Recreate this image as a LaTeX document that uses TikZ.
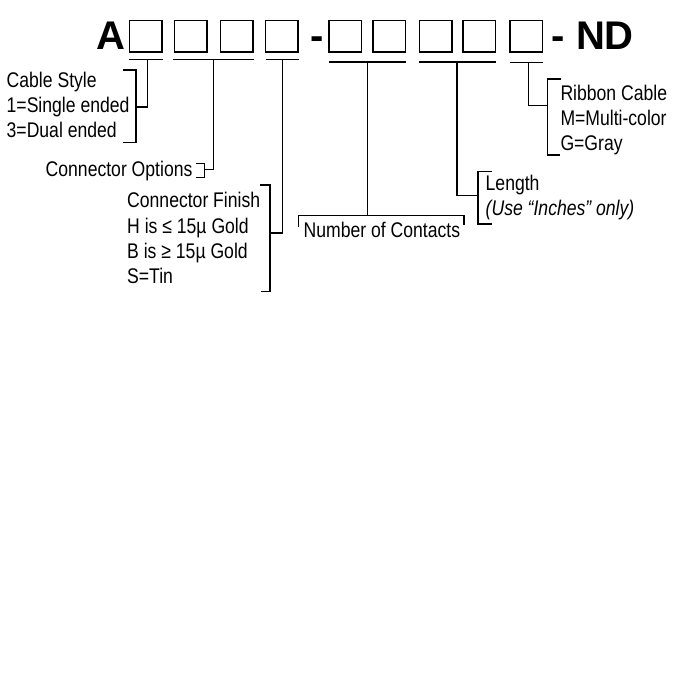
\documentclass[tikz,border=0pt]{standalone}
\usepackage{fontspec}
\setmainfont{Liberation Sans}
\newfontfamily\narrowfont{Liberation Sans}[FakeStretch=0.83]
\begin{document}
\begin{tikzpicture}[x=1pt,y=-1pt,
  ln/.style={line width=1.6pt,line cap=rect},
  codebox/.style={draw,line width=1.5pt,minimum width=32.5pt,minimum height=31.5pt,inner sep=0pt},
  big/.style={font=\fontsize{40}{42}\selectfont\bfseries,inner sep=0pt,anchor=base west},
  lbl/.style={font=\narrowfont\fontsize{21.2}{25}\selectfont,inner sep=0pt,anchor=base west}]
\fill[white] (0,0) rectangle (700,700);
\useasboundingbox (0,0) rectangle (700,700);
% header
\node[big] (A) at (96.5,49.3) {A};
\foreach \n/\cx in {b1/145.75,b2/190.75,b3/236.75,b4/281.75,b5/345.25,b6/389.25,b7/435.5,b8/479.25,b9/526.25}
  \node[codebox] (\n) at (\cx,36.25) {};
\node[big] (dash) at (310,49.3) {-};
\node[big] (nd) at (551.5,49.3) {- ND};
% bars
\coordinate (s1a) at (130,59.5); \coordinate (s1b) at (162.5,59.5);
\coordinate (s2a) at (174,59.5); \coordinate (s2b) at (253,59.5);
\coordinate (s3a) at (267,59.5); \coordinate (s3b) at (298,59.5);
\coordinate (s4a) at (329.5,62); \coordinate (s4b) at (405,62);
\coordinate (s5a) at (419.5,62); \coordinate (s5b) at (495,62);
\coordinate (s6a) at (511,62.5); \coordinate (s6b) at (542,62.5);
\foreach \i in {1,...,6} \draw[ln] (s\i a) -- (s\i b);
% taps on bars
\coordinate (t1) at (147.5,59.5);
\coordinate (t2) at (213.5,59.5);
\coordinate (t3) at (282.5,59.5);
\coordinate (t4) at (367.5,62);
\coordinate (t5) at (457,62);
\coordinate (t6) at (528.3,62.5);
% brackets (mid points)
\coordinate (k1) at (136,107);
\coordinate (k2) at (204.5,169.5);
\coordinate (k3) at (270,233);
\coordinate (k4) at (367.5,215.5);
\coordinate (k5) at (478,195.7);
\coordinate (k6) at (547.3,105.7);
% connectors
\draw[ln] (t1) |- (k1);
\draw[ln] (t2) |- (k2);
\draw[ln] (t3) |- (k3);
\draw[ln] (t4) -- (k4);
\draw[ln] (t5) |- (k5);
\draw[ln] (t6) |- (k6);
% bracket shapes
\draw[ln] (123.5,70) -- (136,70) -- (136,142.5) -- (124,142.5);
\draw[ln] (197,163.5) -- (204.5,163.5) -- (204.5,177.5) -- (197,177.5);
\draw[ln] (260.5,185) -- (270,185) -- (270,291.5) -- (261.5,291.5);
\draw[ln] (298.5,226) -- (298.5,215.5) -- (464,215.5) -- (464,224);
\draw[ln] (491.5,171.7) -- (478,171.7) -- (478,224) -- (491.5,224);
\draw[ln] (560,79.3) -- (547.3,79.3) -- (547.3,155) -- (559,155);
% labels
\node[lbl] (cs1) at (6.5,87.5) {Cable Style};
\node[lbl] (cs2) at (6.5,112.5) {1=Single ended};
\node[lbl] (cs3) at (6.5,137.5) {3=Dual ended};
\node[lbl] (co) at (45.5,176.5) {Connector Options};
\node[lbl] (cf1) at (127,208) {Connector Finish};
\node[lbl] (cf2) at (127,233.5) {H is ≤ 15µ Gold};
\node[lbl] (cf3) at (127,258.5) {B is ≥ 15µ Gold};
\node[lbl] (cf4) at (127,283.5) {S=Tin};
\node[lbl] (nc) at (303.5,238) {Number of Contacts};
\node[lbl] (len1) at (485.5,190.5) {Length};
\node[lbl] (len2) at (485.5,215.5) {\itshape (Use “Inches” only)};
\node[lbl] (rc1) at (560.3,100.5) {Ribbon Cable};
\node[lbl] (rc2) at (560.3,125.5) {M=Multi-color};
\node[lbl] (rc3) at (560.3,150.5) {G=Gray};
\end{tikzpicture}
\end{document}
